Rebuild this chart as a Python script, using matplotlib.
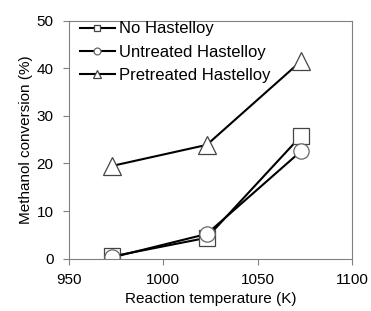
import matplotlib
matplotlib.use("Agg")
import matplotlib.pyplot as plt

temps = [973, 1023, 1073]
no_hast = [0.5, 4.4, 25.8]
untreated = [0.3, 5.2, 22.6]
pretreated = [19.5, 23.9, 41.5]
labels = ["No Hastelloy", "Untreated Hastelloy", "Pretreated Hastelloy"]

plt.rcParams['font.family'] = ['Liberation Sans', 'DejaVu Sans']
fig = plt.figure(figsize=(3.71, 3.11), dpi=100)
ax = fig.add_axes([0.186, 0.168, 0.763, 0.766])

ax.plot(temps, no_hast, color='black', lw=1.5, marker='s', ms=11, mfc='white', mec='#444444', mew=0.9, label=labels[0])
ax.plot(temps, untreated, color='black', lw=1.5, marker='o', ms=11, mfc='white', mec='#666666', mew=0.9, label=labels[1])
ax.plot(temps, pretreated, color='black', lw=1.5, marker='^', ms=13, mfc='white', mec='#444444', mew=0.9, label=labels[2])

ax.set_xlim(950, 1100)
ax.set_ylim(0, 50)
ax.set_xticks([950, 1000, 1050, 1100])
ax.set_yticks([0, 10, 20, 30, 40, 50])
ax.tick_params(direction='out', length=4.5, width=0.8, color='#808080', labelsize=11)
ax.tick_params(axis='x', pad=6)
ax.tick_params(axis='y', pad=6.5)
for s in ax.spines.values():
    s.set_color('#808080')
    s.set_linewidth(0.8)
ax.set_xlabel("Reaction temperature (K)", fontsize=11, labelpad=3)
ax.set_ylabel("Methanol conversion (%)", fontsize=11, labelpad=3)

leg = ax.legend(loc='upper left', bbox_to_anchor=(0.035, 1.0), frameon=False, fontsize=12,
                handlelength=2.1, handletextpad=0.25, labelspacing=0.5, borderaxespad=0.0,
                markerscale=0.45, borderpad=0.05)

fig.savefig("out.png", dpi=100)
